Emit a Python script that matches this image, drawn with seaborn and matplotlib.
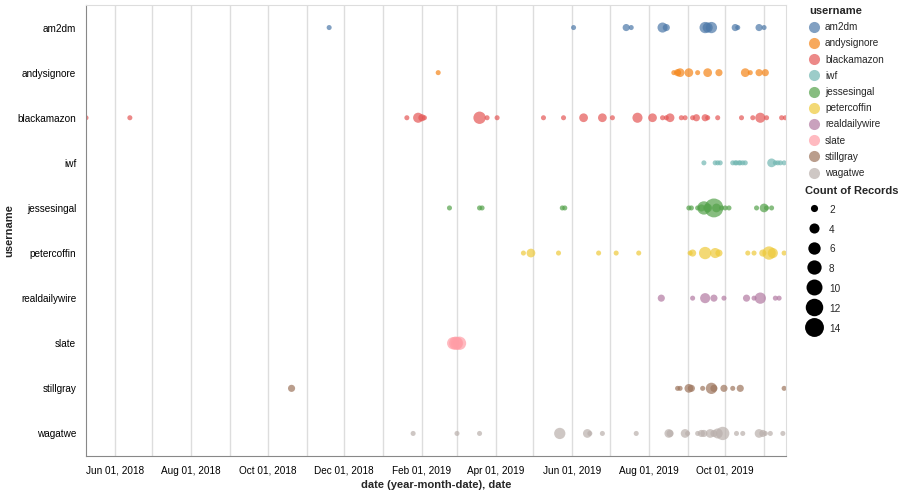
import matplotlib
matplotlib.use("Agg")
import matplotlib.pyplot as plt
import matplotlib.dates as mdates
from matplotlib.lines import Line2D
import pandas as pd
import seaborn as sns

# posts per day (date, count of records)
am2dm = [("2018-11-19", 1), ("2019-06-02", 1), ("2019-07-14", 2), ("2019-07-18", 1),
         ("2019-08-12", 4), ("2019-08-15", 2), ("2019-09-15", 5), ("2019-09-17", 4),
         ("2019-09-20", 5), ("2019-10-09", 2), ("2019-10-11", 1), ("2019-10-28", 2),
         ("2019-11-01", 1)]
andysignore = [("2019-02-14", 1), ("2019-08-21", 1), ("2019-08-24", 2), ("2019-08-26", 3),
               ("2019-09-02", 3), ("2019-09-09", 1), ("2019-09-17", 3), ("2019-09-26", 2),
               ("2019-10-17", 3), ("2019-10-21", 1), ("2019-10-28", 2), ("2019-11-02", 2)]
blackamazon = [("2018-05-09", 1), ("2018-06-13", 1), ("2019-01-20", 1), ("2019-01-29", 4),
               ("2019-02-01", 2), ("2019-02-03", 1), ("2019-03-19", 6), ("2019-03-25", 1),
               ("2019-04-02", 1), ("2019-05-09", 1), ("2019-05-25", 1), ("2019-06-10", 3),
               ("2019-06-25", 3), ("2019-07-03", 1), ("2019-07-23", 4), ("2019-08-04", 3),
               ("2019-08-12", 1), ("2019-08-15", 1), ("2019-08-18", 3), ("2019-08-27", 1),
               ("2019-08-30", 1), ("2019-09-05", 1), ("2019-09-08", 2), ("2019-09-15", 2),
               ("2019-09-17", 1), ("2019-09-25", 1), ("2019-10-14", 1), ("2019-10-23", 1),
               ("2019-10-29", 4), ("2019-11-03", 1), ("2019-11-15", 1), ("2019-11-18", 1)]
iwf = [("2019-09-14", 1), ("2019-09-23", 1), ("2019-09-25", 1), ("2019-09-27", 1),
       ("2019-10-07", 1), ("2019-10-09", 1), ("2019-10-10", 1), ("2019-10-12", 1),
       ("2019-10-13", 1), ("2019-10-15", 1), ("2019-10-17", 1), ("2019-11-07", 3),
       ("2019-11-10", 1), ("2019-11-12", 1), ("2019-11-14", 1), ("2019-11-17", 1)]
jessesingal = [("2019-02-23", 1), ("2019-03-19", 1), ("2019-03-21", 1), ("2019-05-24", 1),
               ("2019-05-26", 1), ("2019-09-02", 1), ("2019-09-04", 1), ("2019-09-09", 1),
               ("2019-09-12", 2), ("2019-09-14", 7), ("2019-09-17", 3), ("2019-09-22", 14),
               ("2019-09-24", 3), ("2019-09-28", 1), ("2019-10-01", 1), ("2019-10-04", 1),
               ("2019-10-26", 1), ("2019-11-01", 3), ("2019-11-03", 1), ("2019-11-07", 1)]
petercoffin = [("2019-04-23", 1), ("2019-04-29", 3), ("2019-05-21", 1), ("2019-06-22", 1),
               ("2019-07-06", 1), ("2019-07-24", 1), ("2019-09-03", 1), ("2019-09-05", 2),
               ("2019-09-15", 6), ("2019-09-23", 4), ("2019-09-26", 2), ("2019-10-19", 1),
               ("2019-10-24", 1), ("2019-10-31", 2), ("2019-11-05", 7), ("2019-11-08", 4),
               ("2019-11-17", 1)]
realdailywire = [("2019-08-11", 2), ("2019-09-05", 1), ("2019-09-15", 4), ("2019-09-22", 2),
                 ("2019-09-30", 1), ("2019-10-18", 2), ("2019-10-24", 1), ("2019-10-29", 5),
                 ("2019-11-10", 1), ("2019-11-13", 1)]
slate = [("2019-02-26", 6), ("2019-02-28", 7), ("2019-03-01", 6), ("2019-03-03", 7)]
stillgray = [("2018-10-20", 2), ("2019-08-24", 1), ("2019-08-26", 1), ("2019-09-02", 3),
             ("2019-09-04", 2), ("2019-09-13", 1), ("2019-09-20", 5), ("2019-09-22", 2),
             ("2019-09-30", 2), ("2019-10-07", 1), ("2019-10-13", 2), ("2019-11-17", 1)]
wagatwe = [("2019-01-25", 1), ("2019-03-01", 1), ("2019-03-19", 1), ("2019-05-22", 5),
           ("2019-06-13", 3), ("2019-06-15", 1), ("2019-06-25", 1), ("2019-07-22", 1),
           ("2019-08-17", 3), ("2019-08-18", 2), ("2019-08-30", 3), ("2019-09-01", 1),
           ("2019-09-09", 1), ("2019-09-12", 2), ("2019-09-14", 2), ("2019-09-19", 3),
           ("2019-09-22", 2), ("2019-09-25", 4), ("2019-09-29", 7), ("2019-10-10", 1),
           ("2019-10-15", 1), ("2019-10-28", 3), ("2019-10-31", 2), ("2019-11-02", 1),
           ("2019-11-06", 1), ("2019-11-16", 1)]

users = ["am2dm", "andysignore", "blackamazon", "iwf", "jessesingal",
         "petercoffin", "realdailywire", "slate", "stillgray", "wagatwe"]
records = [am2dm, andysignore, blackamazon, iwf, jessesingal,
           petercoffin, realdailywire, slate, stillgray, wagatwe]
colors = ["#4c78a8", "#f58518", "#e45756", "#72b7b2", "#54a24b",
          "#eeca3b", "#b279a2", "#ff9da6", "#9d755d", "#bab0ac"]
size_levels = [2, 4, 6, 8, 10, 12, 14]

rows = []
for name, recs in zip(users, records):
    for d, n in recs:
        rows.append({"username": name, "date": pd.Timestamp(d), "count": n})
df = pd.DataFrame(rows)

sns.set_style("white")
plt.rcParams["font.family"] = ["Liberation Sans", "DejaVu Sans"]

# marker area in pt^2 per record (vega-lite size scale is linear in area)
AREA = 13.2

fig = plt.figure(figsize=(9.02, 4.93), dpi=100)
ax = fig.add_axes([86 / 902, 1 - 456 / 493, 700 / 902, 451 / 493])

sns.scatterplot(data=df, x="date", y="username", hue="username", hue_order=users,
                palette=colors, size="count", sizes=(AREA, AREA * 14), size_norm=(1, 14),
                alpha=0.7, linewidth=0, legend=False, ax=ax)

ax.set_ylim(len(users) - 0.5, -0.5)
ax.set_xlim(pd.Timestamp("2018-05-09"), pd.Timestamp("2019-11-18 12:00"))

ax.xaxis.set_major_locator(mdates.MonthLocator(bymonth=[2, 4, 6, 8, 10, 12]))
ax.xaxis.set_minor_locator(mdates.MonthLocator())
ax.xaxis.set_major_formatter(mdates.DateFormatter("%b %d, %Y"))
ax.grid(True, which="both", axis="x", color="#dddddd", linewidth=1)
ax.grid(False, axis="y")
ax.set_axisbelow(True)

ax.tick_params(axis="both", which="both", direction="out", length=5, width=1,
               color="#888888", labelsize=7.2, labelcolor="#000000", pad=2)
for side in ["left", "bottom"]:
    ax.spines[side].set_color("#888888")
for side in ["top", "right"]:
    ax.spines[side].set_color("#dddddd")

ax.set_xlabel("date (year-month-date), date", fontsize=8, fontweight="bold", labelpad=3)
ax.set_ylabel("username", fontsize=8, fontweight="bold")
ax.yaxis.set_label_coords(-72 / 700, 0.5)

# colour legend
handles = [Line2D([], [], marker="o", linestyle="", markersize=8, markeredgewidth=0,
                  markerfacecolor=c, alpha=0.7) for c in colors]
leg1 = fig.legend(handles, users, title="username", loc="upper left",
                  bbox_to_anchor=(809 / 902, 1 - 6 / 493), frameon=False, fontsize=7.2,
                  title_fontproperties={"weight": "bold", "size": 8},
                  labelspacing=0.62, handlelength=1.0, handletextpad=0.6,
                  borderpad=0, borderaxespad=0)
leg1._legend_box.align = "left"

# size legend
size_handles = [Line2D([], [], marker="o", linestyle="", markeredgewidth=0,
                       markerfacecolor="black", markersize=(AREA * n) ** 0.5)
                for n in size_levels]
leg2 = fig.legend(size_handles, [str(n) for n in size_levels], title="Count of Records",
                  loc="upper left", bbox_to_anchor=(805 / 902, 1 - 186 / 493),
                  frameon=False, fontsize=7.2,
                  title_fontproperties={"weight": "bold", "size": 8},
                  labelspacing=0.7, handlelength=1.8, handleheight=1.6,
                  handletextpad=0.6, borderpad=0, borderaxespad=0)
leg2._legend_box.align = "left"

fig.savefig("out.png", dpi=100)
